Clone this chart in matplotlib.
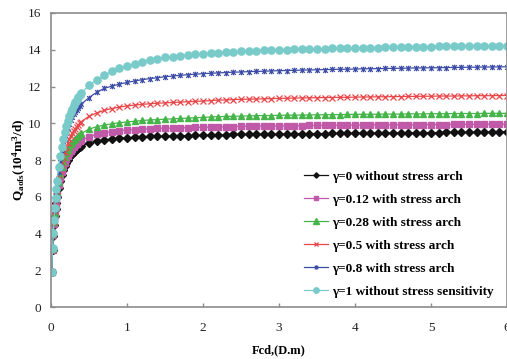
import matplotlib
matplotlib.use("Agg")
import matplotlib.pyplot as plt
from matplotlib.path import Path

plt.rcParams["font.family"] = "Liberation Serif"
plt.rcParams["mathtext.fontset"] = "custom"
plt.rcParams["mathtext.rm"] = "Liberation Serif"
plt.rcParams["mathtext.bf"] = "Liberation Serif:bold"
plt.rcParams["mathtext.it"] = "Liberation Serif:italic"

# Fcd sampling, dense near zero then every 0.1
fcd = [0.01, 0.02, 0.03, 0.04, 0.05, 0.06, 0.07, 0.08,
       0.10, 0.12, 0.14, 0.16, 0.18, 0.20, 0.22, 0.24,
       0.26, 0.28, 0.30, 0.32, 0.34, 0.36, 0.38, 0.40,
       0.5, 0.6, 0.7, 0.8, 0.9, 1.0, 1.1, 1.2, 1.3, 1.4,
       1.5, 1.6, 1.7, 1.8, 1.9, 2.0, 2.1, 2.2, 2.3, 2.4,
       2.5, 2.6, 2.7, 2.8, 2.9, 3.0, 3.1, 3.2, 3.3, 3.4,
       3.5, 3.6, 3.7, 3.8, 3.9, 4.0, 4.1, 4.2, 4.3, 4.4,
       4.5, 4.6, 4.7, 4.8, 4.9, 5.0, 5.1, 5.2, 5.3, 5.4,
       5.5, 5.6, 5.7, 5.8, 5.9, 6.0]

q_g0 = [1.90, 3.10, 3.86, 4.45, 4.93, 5.33, 5.67, 5.97,
        6.45, 6.85, 7.17, 7.44, 7.67, 7.86, 8.02, 8.15,
        8.25, 8.34, 8.42, 8.51, 8.59, 8.66, 8.72, 8.77,
        8.92, 9.02, 9.09, 9.14, 9.18, 9.21, 9.24, 9.26, 9.28, 9.29,
        9.30, 9.31, 9.32, 9.33, 9.34, 9.35, 9.36, 9.37, 9.38, 9.39,
        9.39, 9.40, 9.40, 9.41, 9.41, 9.42, 9.42, 9.43, 9.43, 9.44,
        9.44, 9.44, 9.45, 9.45, 9.45, 9.46, 9.46, 9.46, 9.47, 9.47,
        9.47, 9.48, 9.48, 9.48, 9.49, 9.49, 9.49, 9.50, 9.50, 9.50,
        9.51, 9.51, 9.52, 9.52, 9.53, 9.53]

q_g012 = [1.90, 3.12, 3.90, 4.52, 5.02, 5.44, 5.80, 6.12,
          6.62, 7.02, 7.35, 7.63, 7.86, 8.06, 8.23, 8.38,
          8.51, 8.62, 8.72, 8.81, 8.89, 8.96, 9.02, 9.08,
          9.27, 9.40, 9.48, 9.55, 9.60, 9.63, 9.66, 9.68, 9.70, 9.72,
          9.73, 9.74, 9.75, 9.76, 9.77, 9.78, 9.79, 9.80, 9.81, 9.82,
          9.83, 9.83, 9.84, 9.85, 9.85, 9.86, 9.86, 9.87, 9.87, 9.88,
          9.88, 9.89, 9.89, 9.89, 9.90, 9.90, 9.90, 9.91, 9.91, 9.91,
          9.92, 9.92, 9.92, 9.92, 9.93, 9.93, 9.93, 9.93, 9.94, 9.94,
          9.94, 9.94, 9.95, 9.95, 9.95, 9.95]

q_g028 = [1.90, 3.15, 3.95, 4.60, 5.12, 5.56, 5.95, 6.28,
          6.82, 7.25, 7.60, 7.90, 8.15, 8.37, 8.55, 8.71,
          8.85, 8.97, 9.08, 9.17, 9.25, 9.32, 9.39, 9.45,
          9.68, 9.81, 9.90, 9.97, 10.03, 10.07, 10.11, 10.15, 10.18, 10.20,
          10.22, 10.24, 10.26, 10.28, 10.30, 10.32, 10.34, 10.36, 10.37, 10.38,
          10.39, 10.40, 10.41, 10.42, 10.42, 10.43, 10.44, 10.44, 10.45, 10.45,
          10.46, 10.46, 10.47, 10.47, 10.48, 10.48, 10.49, 10.49, 10.49, 10.50,
          10.50, 10.50, 10.51, 10.51, 10.51, 10.52, 10.52, 10.52, 10.53, 10.53,
          10.53, 10.53, 10.54, 10.54, 10.54, 10.54]

q_g05 = [1.90, 3.18, 4.00, 4.65, 5.22, 5.65, 6.05, 6.38,
         6.95, 7.42, 7.82, 8.16, 8.45, 8.70, 8.92, 9.12,
         9.30, 9.45, 9.59, 9.71, 9.82, 9.92, 10.01, 10.09,
         10.38, 10.56, 10.70, 10.80, 10.88, 10.94, 10.99, 11.03, 11.06, 11.09,
         11.11, 11.13, 11.15, 11.17, 11.19, 11.21, 11.23, 11.26, 11.27, 11.29,
         11.30, 11.31, 11.32, 11.33, 11.34, 11.35, 11.36, 11.37, 11.38, 11.38,
         11.39, 11.40, 11.40, 11.41, 11.41, 11.42, 11.43, 11.43, 11.44, 11.44,
         11.45, 11.45, 11.46, 11.46, 11.47, 11.47, 11.48, 11.48, 11.48, 11.49,
         11.49, 11.50, 11.50, 11.50, 11.51, 11.51]

q_g08 = [1.90, 3.20, 4.02, 4.70, 5.30, 5.82, 6.28, 6.68,
         7.35, 7.90, 8.38, 8.80, 9.15, 9.45, 9.72, 9.95,
         10.15, 10.33, 10.48, 10.62, 10.74, 10.85, 10.95, 11.04,
         11.40, 11.68, 11.90, 12.02, 12.13, 12.22, 12.30, 12.37, 12.43, 12.48,
         12.53, 12.57, 12.61, 12.64, 12.67, 12.70, 12.72, 12.74, 12.76, 12.78,
         12.79, 12.81, 12.82, 12.83, 12.85, 12.86, 12.87, 12.88, 12.89, 12.90,
         12.91, 12.92, 12.93, 12.94, 12.94, 12.95, 12.96, 12.97, 12.97, 12.98,
         12.99, 12.99, 13.00, 13.01, 13.01, 13.02, 13.02, 13.03, 13.04, 13.04,
         13.05, 13.05, 13.06, 13.06, 13.07, 13.07]

q_g1 = [1.90, 3.20, 4.05, 4.75, 5.38, 5.92, 6.40, 6.85,
        7.60, 8.20, 8.72, 9.15, 9.52, 9.85, 10.13, 10.38,
        10.60, 10.80, 10.98, 11.14, 11.28, 11.41, 11.52, 11.62,
        12.08, 12.35, 12.60, 12.82, 12.98, 13.10, 13.25, 13.36, 13.45, 13.52,
        13.58, 13.63, 13.68, 13.72, 13.76, 13.79, 13.82, 13.85, 13.87, 13.89,
        13.91, 13.93, 13.95, 13.97, 13.98, 14.00, 14.01, 14.02, 14.03, 14.04,
        14.05, 14.06, 14.07, 14.08, 14.09, 14.10, 14.11, 14.12, 14.12, 14.13,
        14.14, 14.15, 14.15, 14.16, 14.17, 14.17, 14.18, 14.19, 14.19, 14.20,
        14.21, 14.21, 14.22, 14.22, 14.23, 14.23]

labels = ["γ=0 without stress arch",
          "γ=0.12 with stress arch",
          "γ=0.28 with stress arch",
          "γ=0.5 with stress arch",
          "γ=0.8 with stress arch",
          "γ=1 without stress sensitivity"]

# x with a vertical bar, like the spreadsheet "star" marker
star = Path([(-1, -1), (1, 1), (-1, 1), (1, -1), (0, -1.2), (0, 1.2)],
            [Path.MOVETO, Path.LINETO, Path.MOVETO, Path.LINETO,
             Path.MOVETO, Path.LINETO])

styles = [
    dict(color="#111111", marker="D", ms=3.6),
    dict(color="#c05aa8", marker="s", ms=4.4),
    dict(color="#45b54a", marker="^", ms=5.0),
    dict(color="#e8474a", marker="x", ms=3.8, mew=0.9),
    dict(color="#3e4ea6", marker=star, ms=4.0, mew=0.9),
    dict(color="#79cbca", marker="o", ms=5.2),
]
series = [q_g0, q_g012, q_g028, q_g05, q_g08, q_g1]

fig = plt.figure(figsize=(5.07, 3.59), dpi=100)
ax = fig.add_axes([0.1006, 0.1448, 0.8994, 0.819])

for y, lab, st in zip(series, labels, styles):
    ax.plot(fcd, y, lw=0.9, label=lab, **st)

ax.set_xlim(0, 6)
ax.set_ylim(0, 16)
ax.set_xticks(range(0, 7))
ax.set_yticks(range(0, 17, 2))
for sp in ax.spines.values():
    sp.set_color("#8c8c8c")
    sp.set_linewidth(1.2)
ax.tick_params(direction="in", length=3, width=1, color="#8c8c8c",
               labelsize=9.5, labelcolor="#222222")
ax.tick_params(axis="x", pad=11)
ax.tick_params(axis="y", pad=7)

ax.set_xlabel("Fcd,(D.m)", fontsize=9, fontweight="bold", labelpad=7)
ax.set_ylabel(r"$\mathbf{Q_{aofs}(10^4m^3/d)}$", fontsize=9.5, labelpad=0)

leg = ax.legend(loc="lower left", bbox_to_anchor=(0.535, 0.0), frameon=False,
                prop={"weight": "bold", "size": 9.5}, markerscale=0.75,
                handlelength=1.8, handletextpad=0.3, labelspacing=0.82,
                borderaxespad=0.3)

fig.savefig("out.png", dpi=100)
